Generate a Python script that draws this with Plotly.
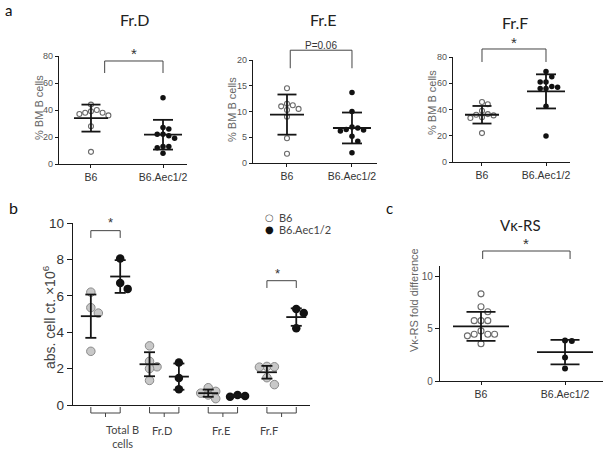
import plotly.graph_objects as go

W, H = 612, 451

# ---------------- data ----------------
cats = ["B6", "B6.Aec1/2"]

frD_b6 = [44, 40, 39, 38, 38, 37, 36, 28, 9]
frD_aec = [49, 27, 26, 22, 22, 21, 19, 13, 13, 12, 8]
frD_mean = [34, 21.7]
frD_sd = [10, 11]

frE_b6 = [14.5, 11.5, 11.2, 11.0, 10.5, 10.3, 9.0, 4.8, 1.8]
frE_aec = [13.7, 10.0, 7.0, 6.8, 6.5, 6.4, 6.2, 5.2, 4.2, 2.0]
frE_mean = [9.4, 6.8]
frE_sd = [3.9, 3.0]

frF_b6 = [45.7, 44, 39, 36.5, 36, 35.5, 34, 33.5, 22]
frF_aec = [69, 65, 61, 61, 57.5, 57, 56, 56, 42.4, 19.8]
frF_mean = [36, 53.8]
frF_sd = [6.7, 13]

b_groups = ["Total B<br>cells", "Fr.D", "Fr.E", "Fr.F"]
b_b6 = [[6.2, 5.35, 5.05, 2.95], [3.25, 2.4, 2.1, 2.0, 1.35],
        [0.95, 0.75, 0.65, 0.55, 0.35], [2.12, 2.1, 2.08, 1.5, 1.12]]
b_aec = [[8.05, 6.7, 6.38], [2.33, 1.48, 0.87], [0.55, 0.5, 0.45], [5.28, 5.05, 4.22]]
b_b6_mean = [4.88, 2.24, 0.65, 1.8]
b_b6_sd = [1.19, 0.66, 0.2, 0.35]
b_aec_mean = [7.06, 1.56, 0.5, 4.83]
b_aec_sd = [0.9, 0.72, 0.06, 0.48]

c_b6 = [8.3, 7.07, 6.6, 5.75, 5.75, 5.75, 4.77, 4.45, 4.45, 4.45, 4.3, 3.55]
c_aec = [3.85, 3.8, 2.25, 1.2]
c_mean = [5.2, 2.75]
c_sd = [1.38, 1.17]

# ---------------- panel geometry (pixels) ----------------
panels = {
    1: dict(px=(59, 187), py=(164, 56), xr=(-0.444, 1.333), yr=(0, 80), yt=[0, 20, 40, 60, 80], fs=9, tl=3),
    2: dict(px=(253, 377), py=(163, 60), xr=(-0.523, 1.385), yr=(0, 20), yt=[0, 5, 10, 15, 20], fs=9, tl=3),
    3: dict(px=(453, 570), py=(162, 57), xr=(-0.453, 1.375), yr=(0, 80), yt=[0, 20, 40, 60, 80], fs=9, tl=3),
    4: dict(px=(73, 310), py=(405, 223), xr=(-0.554, 3.484), yr=(0, 10), yt=[0, 2, 4, 6, 8, 10], fs=13.5, tl=5),
    5: dict(px=(440, 603), py=(381, 265.5), xr=(-0.488, 1.452), yr=(0, 11), yt=[0, 5, 10], fs=10, tl=4),
}
for p in panels.values():
    p["ppx"] = (p["px"][1] - p["px"][0]) / (p["xr"][1] - p["xr"][0])
    p["ppy"] = (p["py"][0] - p["py"][1]) / (p["yr"][1] - p["yr"][0])

fig = go.Figure()

OPEN = dict(color="white", size=5, line=dict(color="#6a6a6a", width=1.1))
FILL = dict(color="#111111", size=5.5, line=dict(color="#111111", width=0))
B_OPEN = dict(color="#c8c8c8", size=8.5, line=dict(color="#8a8a8a", width=1))
B_FILL = dict(color="#111111", size=8.5, line=dict(color="#111111", width=0))


def swarm(vals, ppy, step):
    placed, res = [], [0.0] * len(vals)
    order = sorted(range(len(vals)), key=lambda i: -vals[i])
    cands = [0.0]
    for j in range(1, 25):
        cands += [j * step, -j * step]
    for i in order:
        y = vals[i] * ppy
        for c in cands:
            if all((c - a) ** 2 + (y - b) ** 2 >= (step * 0.97) ** 2 for a, b in placed):
                res[i] = c
                placed.append((c, y))
                break
    return res


def add_group(k, xc, vals, mean, sd, marker, step, mhw, chw):
    p = panels[k]
    offs = swarm(vals, p["ppy"], step)
    xs = [xc + o / p["ppx"] for o in offs]
    xa, ya = ("x", "y") if k == 1 else (f"x{k}", f"y{k}")
    fig.add_trace(go.Scatter(x=xs, y=vals, mode="markers", marker=marker,
                             xaxis=xa, yaxis=ya, cliponaxis=False,
                             showlegend=False, hoverinfo="y"))
    m_ = mhw / p["ppx"]
    c_ = chw / p["ppx"]
    lx = [xc - m_, xc + m_, None, xc - c_, xc + c_, None, xc - c_, xc + c_, None, xc, xc]
    ly = [mean, mean, None, mean + sd, mean + sd, None, mean - sd, mean - sd, None, mean - sd, mean + sd]
    fig.add_trace(go.Scatter(x=lx, y=ly, mode="lines", line=dict(color="#151515", width=1.8),
                             xaxis=xa, yaxis=ya, cliponaxis=False, showlegend=False, hoverinfo="skip"))


# panel a
for k, (v1, v2, mn, sd) in zip([1, 2, 3], [(frD_b6, frD_aec, frD_mean, frD_sd),
                                         (frE_b6, frE_aec, frE_mean, frE_sd),
                                         (frF_b6, frF_aec, frF_mean, frF_sd)]):
    add_group(k, 0, v1, mn[0], sd[0], OPEN, 5.8, 17, 9.5)
    add_group(k, 1, v2, mn[1], sd[1], FILL, 5.8, 19, 10)

# panel b
for i in range(len(b_groups)):
    add_group(4, i - 0.25, b_b6[i], b_b6_mean[i], b_b6_sd[i], B_OPEN, 7.5, 10, 5.5)
    add_group(4, i + 0.25, b_aec[i], b_aec_mean[i], b_aec_sd[i], B_FILL, 7.5, 10, 5.5)

# panel c
add_group(5, 0, c_b6, c_mean[0], c_sd[0], dict(OPEN, size=6), 6.8, 28, 14.5)
add_group(5, 1, c_aec, c_mean[1], c_sd[1], dict(FILL, size=6), 6.8, 28, 14.5)

# ---------------- axes ----------------
AXC = "#1a1a1a"
layout = dict(width=W, height=H, margin=dict(l=0, r=0, t=0, b=0, pad=0), autosize=False,
              paper_bgcolor="white", plot_bgcolor="white", showlegend=False)
for k, p in panels.items():
    xs = "" if k == 1 else str(k)
    xd = dict(
        domain=[p["px"][0] / W, p["px"][1] / W], range=list(p["xr"]),
        anchor="y" + xs, showline=True, linecolor=AXC, linewidth=1.4,
        showgrid=False, zeroline=False, fixedrange=True, automargin=False,
        tickfont=dict(family="Liberation Sans, Arial", size=10.5, color="#333"))
    if k != 4:
        xd.update(ticks="outside", ticklen=3, tickcolor=AXC, tickvals=[0, 1], ticktext=cats)
    else:
        xd.update(ticks="", showticklabels=False)
    layout["xaxis" + xs] = xd
    layout["yaxis" + xs] = dict(
        domain=[1 - p["py"][0] / H, 1 - p["py"][1] / H], range=list(p["yr"]),
        anchor="x" + xs, showline=True, linecolor=AXC, linewidth=1.4,
        showgrid=False, zeroline=False, fixedrange=True, automargin=False,
        ticks="outside", ticklen=p["tl"], tickcolor=AXC, tickvals=p["yt"],
        tickfont=dict(family="Liberation Sans, Arial", size=p["fs"],
                      color="#555" if k != 4 else "#333"))
fig.update_layout(**layout)

# ---------------- text ----------------
def ptxt(x, y, text, size, color="#222", family="Lato, Open Sans", angle=0, xanchor="center", **kw):
    fig.add_annotation(x=x / W, y=1 - y / H, xref="paper", yref="paper", text=text,
                       showarrow=False, textangle=angle, xanchor=xanchor, yanchor="middle",
                       font=dict(size=size, color=color, family=family), **kw)

ptxt(8, 10, "a", 15, "#111")
ptxt(13, 207, "b", 16, "#111")
ptxt(389, 208, "c", 15, "#111")
ptxt(135, 20, "Fr.D", 16)
ptxt(323, 20, "Fr.E", 16)
ptxt(515, 22, "Fr.F", 16)
ptxt(520, 225, "Vκ-RS", 15)

ARIAL = "Liberation Sans, Arial"
ptxt(39, 108, "% BM B cells", 11, "#666", ARIAL, -90)
ptxt(232, 110, "% BM B cells", 11, "#666", ARIAL, -90)
ptxt(432, 103, "% BM B cells", 11, "#666", ARIAL, -90)
ptxt(49, 317, "abs. cell ct. ×10<sup>6</sup>", 14, "#444", ARIAL, -90)
ptxt(414, 300, "Vκ-RS fold difference", 11, "#666", ARIAL, -90)

# legend
ptxt(263, 217, "○", 10, "#555", "DejaVu Sans", xanchor="left")
ptxt(263, 229, "●", 10, "#111", "DejaVu Sans", xanchor="left")
ptxt(277, 217, "B6", 11, "#444", "Lato, Open Sans", xanchor="left")
ptxt(277, 229, "B6.Aec1/2", 11, "#444", "Lato, Open Sans", xanchor="left")

# ---------------- significance brackets (data coords -> axis-domain refs) ----------------
def dom(k, x, y):
    p = panels[k]
    return ((x - p["xr"][0]) / (p["xr"][1] - p["xr"][0]),
            (y - p["yr"][0]) / (p["yr"][1] - p["yr"][0]))

brackets = [  # panel, x-left, x-right, top, leg-bottom, label, label-y, label size
    (1, 0.19, 1.0, 76.3, 67.4, "*", 82.0, 15),
    (2, 0.05, 1.0, 21.9, 18.4, "P=0.06", 22.8, 10),
    (3, 0.0, 1.0, 86.1, 76.2, "*", 91.0, 15),
    (4, -0.25, 0.25, 9.58, 9.18, "*", 10.05, 13),
    (4, 2.75, 3.25, 6.83, 6.43, "*", 7.25, 13),
    (5, 0.02, 1.06, 12.38, 11.62, "*", 13.1, 15),
]
for k, x0, x1, top, bot, lab, ly, ls in brackets:
    xs = "" if k == 1 else str(k)
    (a0, t), (a1, b) = dom(k, x0, top), dom(k, x1, bot)
    fig.add_shape(type="path", xref=f"x{xs} domain", yref=f"y{xs} domain",
                  path=f"M {a0} {b} L {a0} {t} L {a1} {t} L {a1} {b}",
                  line=dict(color="#444", width=1))
    lx, lyd = dom(k, (x0 + x1) / 2, ly)
    fig.add_annotation(x=lx, y=lyd, xref=f"x{xs} domain", yref=f"y{xs} domain", text=lab,
                       showarrow=False, yanchor="middle",
                       font=dict(size=ls, color="#333", family=ARIAL))

# panel b lower group brackets and labels
pb = panels[4]
for i, g in enumerate(b_groups):
    (a0, y1), (a1, y2) = dom(4, i - 0.25, -2 / pb["ppy"]), dom(4, i + 0.25, -8 / pb["ppy"])
    ac, y3 = dom(4, i, -12 / pb["ppy"])
    fig.add_shape(type="path", xref="x4 domain", yref="y4 domain",
                  path=f"M {a0} {y1} L {a0} {y2} L {a1} {y2} L {a1} {y1} M {ac} {y2} L {ac} {y3}",
                  line=dict(color="#444", width=1))
    gy = -31 / pb["ppy"] if i == 0 else -25 / pb["ppy"]
    gx, gyd = dom(4, i - 0.03, gy)
    fig.add_annotation(x=gx, y=gyd, xref="x4 domain", yref="y4 domain", text=g,
                       showarrow=False, yanchor="middle",
                       font=dict(size=11, color="#444", family="Lato, Open Sans"))

fig.write_html("out.html", config={"displayModeBar": False},
               post_script="document.body.style.margin='0';document.body.style.overflow='hidden';")
